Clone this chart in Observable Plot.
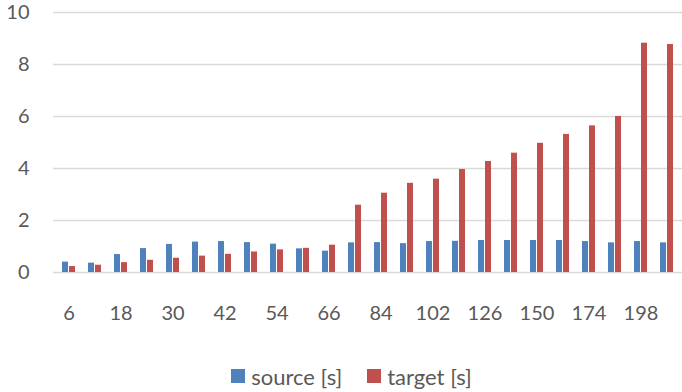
<!DOCTYPE html>
<html>
<head>
<meta charset="utf-8">
<script src="https://cdn.jsdelivr.net/npm/d3@7"></script>
<script src="https://cdn.jsdelivr.net/npm/@observablehq/plot@0.6"></script>
<style>
  html, body { margin: 0; padding: 0; background: #fff; }
  #chart { width: 682px; }
  .legend { display: flex; justify-content: center; align-items: center; gap: 25px;
            font-family: Lato, "Open Sans", sans-serif; font-size: 22px; color: #595959;
            padding-top: 8px; padding-left: 21px; height: 26px; }
  .legend .item { display: flex; align-items: center; gap: 6px; }
  .legend .sw { width: 14px; height: 14px; display: inline-block; }
</style>
</head>
<body>
<div id="chart"></div>
<script>
const categories = [6,12,18,24,30,36,42,48,54,60,66,75,84,93,102,114,126,138,150,162,174,186,198,210];
const source = [0.40,0.36,0.69,0.92,1.08,1.17,1.19,1.15,1.09,0.91,0.82,1.14,1.15,1.11,1.19,1.20,1.23,1.23,1.23,1.23,1.19,1.14,1.19,1.14];
const target = [0.23,0.28,0.38,0.47,0.55,0.63,0.70,0.79,0.87,0.93,1.05,2.59,3.05,3.43,3.59,3.96,4.27,4.59,4.97,5.31,5.64,6.00,8.82,8.77];
const seriesNames = ["source [s]", "target [s]"];
const colors = ["#4F81BD", "#C0504D"];
const yTicks = [0, 2, 4, 6, 8, 10];
const xTickLabels = categories.filter((d, i) => i % 2 === 0);

const srcRows = categories.map((c, i) => ({cat: c, value: source[i]}));
const tgtRows = categories.map((c, i) => ({cat: c, value: target[i]}));

const chart = Plot.plot({
  width: 682,
  height: 355,
  marginLeft: 53,
  marginRight: 0,
  marginTop: 12,
  marginBottom: 83,
  style: {fontFamily: "Lato, 'Open Sans', sans-serif", fontSize: "20px", color: "#595959", background: "#fff", overflow: "visible"},
  x: {type: "band", domain: categories, paddingInner: 0.5, paddingOuter: 0.25, label: null},
  y: {domain: [0, 10], label: null},
  marks: [
    Plot.ruleY(yTicks, {stroke: "#d9d9d9", strokeWidth: 1.3}),
    Plot.barY(srcRows, {x: "cat", y: "value", fill: colors[0], insetRight: 7}),
    Plot.barY(tgtRows, {x: "cat", y: "value", fill: colors[1], insetLeft: 7}),
    Plot.axisY({ticks: yTicks, tickSize: 0, tickPadding: 24, fill: "#595959", fontSize: 20, label: null}),
    Plot.axisX({ticks: xTickLabels, tickSize: 0, tickPadding: 33, fill: "#595959", fontSize: 20, label: null})
  ]
});
document.getElementById("chart").appendChild(chart);

const legend = document.createElement("div");
legend.className = "legend";
seriesNames.forEach((name, i) => {
  const item = document.createElement("span");
  item.className = "item";
  const sw = document.createElement("span");
  sw.className = "sw";
  sw.style.background = colors[i];
  const label = document.createElement("span");
  label.textContent = name;
  item.appendChild(sw);
  item.appendChild(label);
  legend.appendChild(item);
});
document.getElementById("chart").appendChild(legend);
</script>
</body>
</html>
